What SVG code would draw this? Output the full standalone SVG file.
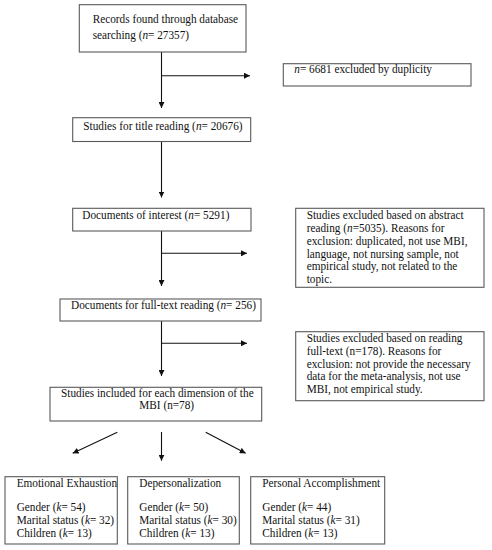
<svg xmlns="http://www.w3.org/2000/svg" width="492" height="550" viewBox="0 0 492 550">
<style>
.box{fill:#fff;stroke:#5a5a5a;stroke-width:1.1}
.ln{fill:none;stroke:#111;stroke-width:1.1}
.t{font-family:'Liberation Serif','DejaVu Serif','Times New Roman',serif;font-size:12px;fill:#111}
.i{font-style:italic}
</style>
<defs>
<marker id="ah" viewBox="0 0 10 10" refX="10" refY="5" markerWidth="6" markerHeight="6" markerUnits="userSpaceOnUse" orient="auto">
<path d="M0,0 L10,5 L0,10 Z" fill="#111"/>
</marker>
</defs>
<rect width="492" height="550" fill="#fff"/>
<g id="connectors">
<line class="ln" x1="161.5" y1="52" x2="161.5" y2="108" marker-end="url(#ah)"/>
<line class="ln" x1="161.5" y1="75.7" x2="250" y2="75.7" marker-end="url(#ah)"/>
<line class="ln" x1="161.5" y1="141.5" x2="161.5" y2="197.5" marker-end="url(#ah)"/>
<line class="ln" x1="161.5" y1="231" x2="161.5" y2="286" marker-end="url(#ah)"/>
<line class="ln" x1="161.5" y1="253.3" x2="247" y2="253.3" marker-end="url(#ah)"/>
<line class="ln" x1="161.5" y1="321" x2="161.5" y2="376" marker-end="url(#ah)"/>
<line class="ln" x1="161.5" y1="343.3" x2="247" y2="343.3" marker-end="url(#ah)"/>
<line class="ln" x1="117.3" y1="432.3" x2="72.7" y2="453.3" marker-end="url(#ah)"/>
<line class="ln" x1="161.5" y1="432" x2="161.5" y2="460.7" marker-end="url(#ah)"/>
<line class="ln" x1="205.7" y1="432.3" x2="245.7" y2="453.3" marker-end="url(#ah)"/>
</g>
<g id="records">
<rect class="box" x="79.3" y="4.7" width="166.7" height="47.3"/>
<text class="t" transform="matrix(0.94 0 0 1 92.7 22.5)"><tspan x="0" y="0">Records found through database</tspan><tspan x="0" y="16.8">searching (<tspan class="i">n</tspan>= 27357)</tspan></text>
</g>
<g id="excluded-duplicity">
<rect class="box" x="283.3" y="63.7" width="187.7" height="22.3"/>
<text class="t" transform="matrix(0.94 0 0 1 294.3 73.3)"><tspan class="i">n</tspan>= 6681 excluded by duplicity</text>
</g>
<g id="title-reading">
<rect class="box" x="72.7" y="117.7" width="178" height="23.8"/>
<text class="t" transform="matrix(0.94 0 0 1 83.3 129.5)">Studies for title reading (<tspan class="i">n</tspan>= 20676)</text>
</g>
<g id="documents-interest">
<rect class="box" x="72.7" y="208.3" width="178.3" height="22.7"/>
<text class="t" transform="matrix(0.94 0 0 1 82.3 219)">Documents of interest (<tspan class="i">n</tspan>= 5291)</text>
</g>
<g id="excluded-abstract">
<rect class="box" x="295.7" y="208.3" width="188.3" height="79"/>
<text class="t" transform="matrix(0.94 0 0 1 306.7 219.3)"><tspan x="0" y="0">Studies excluded based on abstract</tspan><tspan x="0" y="12.8">reading (<tspan class="i">n</tspan>=5035). Reasons for</tspan><tspan x="0" y="25.6">exclusion: duplicated, not use MBI,</tspan><tspan x="0" y="38.4">language, not nursing sample, not</tspan><tspan x="0" y="51.2">empirical study, not related to the</tspan><tspan x="0" y="64">topic.</tspan></text>
</g>
<g id="full-text">
<rect class="box" x="60" y="299" width="201" height="22"/>
<text class="t" transform="matrix(0.94 0 0 1 71 308.7)">Documents for full-text reading (<tspan class="i">n</tspan>= 256)</text>
</g>
<g id="excluded-fulltext">
<rect class="box" x="295.7" y="331.7" width="188.3" height="69"/>
<text class="t" transform="matrix(0.94 0 0 1 306.7 342.3)"><tspan x="0" y="0">Studies excluded based on reading</tspan><tspan x="0" y="12.7">full-text (n=178). Reasons for</tspan><tspan x="0" y="25.4">exclusion: not provide the necessary</tspan><tspan x="0" y="38.1">data for the meta-analysis, not use</tspan><tspan x="0" y="50.8">MBI, not empirical study.</tspan></text>
</g>
<g id="included">
<rect class="box" x="50" y="387.3" width="211.7" height="33.7"/>
<text class="t" transform="matrix(0.94 0 0 1 61 397.3)"><tspan x="0" y="0">Studies included for each dimension of the</tspan><tspan x="83.3" y="12">MBI (n=78)</tspan></text>
</g>
<g id="emotional-exhaustion">
<rect class="box" x="5" y="476.7" width="112.3" height="67.3"/>
<text class="t" transform="matrix(0.94 0 0 1 16.7 486.7)"><tspan x="0" y="0">Emotional Exhaustion</tspan><tspan x="0" y="24.3">Gender (<tspan class="i">k</tspan>= 54)</tspan><tspan x="0" y="37.3">Marital status (<tspan class="i">k</tspan>= 32)</tspan><tspan x="0" y="50">Children (<tspan class="i">k</tspan>= 13)</tspan></text>
</g>
<g id="depersonalization">
<rect class="box" x="127.7" y="476.7" width="111.6" height="67.3"/>
<text class="t" transform="matrix(0.94 0 0 1 139.3 486.7)"><tspan x="0" y="0">Depersonalization</tspan><tspan x="0" y="24.3">Gender (<tspan class="i">k</tspan>= 50)</tspan><tspan x="0" y="37.3">Marital status (<tspan class="i">k</tspan>= 30)</tspan><tspan x="0" y="50">Children (<tspan class="i">k</tspan>= 13)</tspan></text>
</g>
<g id="personal-accomplishment">
<rect class="box" x="250.7" y="476.7" width="134" height="67.3"/>
<text class="t" transform="matrix(0.94 0 0 1 262.3 486.7)"><tspan x="0" y="0">Personal Accomplishment</tspan><tspan x="0" y="24.3">Gender (<tspan class="i">k</tspan>= 44)</tspan><tspan x="0" y="37.3">Marital status (<tspan class="i">k</tspan>= 31)</tspan><tspan x="0" y="50">Children (<tspan class="i">k</tspan>= 13)</tspan></text>
</g>
</svg>
